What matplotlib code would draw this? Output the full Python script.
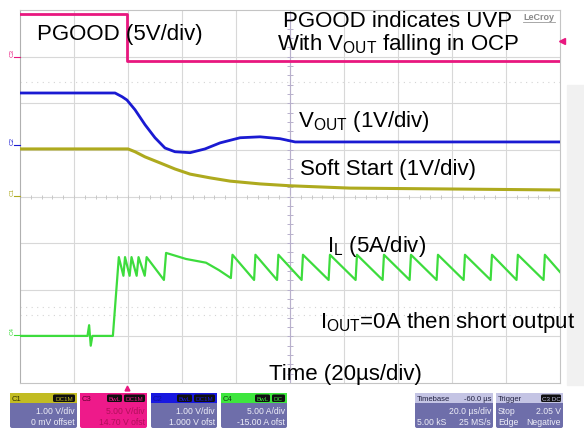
import numpy as np
import matplotlib.pyplot as plt
from matplotlib.patches import Rectangle, FancyBboxPatch

plt.rcParams['font.family'] = 'Liberation Sans'
plt.rcParams['mathtext.fontset'] = 'custom'
plt.rcParams['mathtext.rm'] = 'Liberation Sans'
plt.rcParams['mathtext.it'] = 'Liberation Sans'

# traces: time in us, level in screen divisions (8 div tall, 20 us/div)
pg_t = [0, 39.6, 39.6, 200]
pg_v = [7.92, 7.92, 6.91, 6.91]

vout_t = [0, 35.2, 37.8, 39.6, 42.6, 46.3, 50.0, 53.7, 57.4, 63.0, 68.5, 74.1, 81.5, 88.9, 96.3, 101.9, 200]
vout_v = [6.22, 6.22, 6.14, 6.07, 5.86, 5.54, 5.26, 5.04, 4.96, 4.94, 5.02, 5.15, 5.26, 5.28, 5.24, 5.17, 5.17]

ss_t = [0, 40.0, 42.6, 46.3, 51.9, 57.4, 63.0, 70.4, 77.8, 88.9, 100, 122.2, 200]
ss_v = [5.02, 5.02, 4.96, 4.85, 4.72, 4.59, 4.48, 4.40, 4.33, 4.27, 4.23, 4.18, 4.14]

il_t = [0, 25.0, 25.6, 26.2, 26.8, 34.4, 36.6,
        38.3, 38.9, 40.6, 41.3, 43.2, 43.9, 46.2, 46.9,
        53.3, 54.1, 61.5, 68.9, 73.7, 78.1, 78.7,
        86.7, 87.2, 95.2, 95.7, 104.3, 104.8, 114.3, 114.8, 124.3, 124.8,
        134.3, 134.8, 144.3, 144.8, 154.3, 154.8, 164.3, 164.8, 174.3, 174.8,
        183.9, 184.4, 193.9, 194.4, 200]
il_v = [1.01, 1.01, 1.24, 0.80, 1.01, 1.01, 2.70,
        2.30, 2.70, 2.30, 2.70, 2.30, 2.70, 2.30, 2.70,
        2.21, 2.79, 2.66, 2.58, 2.42, 2.25, 2.75,
        2.21, 2.75, 2.21, 2.75, 2.21, 2.75, 2.21, 2.75, 2.21, 2.75,
        2.21, 2.75, 2.21, 2.75, 2.21, 2.75, 2.21, 2.75, 2.21, 2.75,
        2.21, 2.75, 2.21, 2.75, 2.38]

PINK = '#e8177f'
BLUE = '#1a1ad2'
YEL = '#aeaa1e'
GRN = '#3ddc3d'
BODY = '#6e6eaa'

fig = plt.figure(figsize=(5.84, 4.28), dpi=100)
ax = fig.add_axes([20/584, 45/428, 540/584, 373/428])
ax.set_xlim(0, 200)
ax.set_ylim(0, 8)
for s in ax.spines.values():
    s.set_color('#c4c4c4')
    s.set_linewidth(0.8)
ax.spines['left'].set_color('#b0b0b0')
ax.set_xticks([])
ax.set_yticks([])

# graticule
for x in range(20, 200, 20):
    ax.axvline(x, color='#d8d8d8', lw=0.8, zorder=1)
for y in range(1, 8):
    ax.axhline(y, color='#d8d8d8', lw=0.8, zorder=1)
ax.axvline(100, color='#b8b0cc', lw=0.8, zorder=1)
ax.plot(np.full(39, 100), np.arange(0.2, 8, 0.2), ls='none', marker='_', ms=4,
        mew=0.7, color='#b8b0cc', zorder=1)
ax.plot(np.arange(4, 200, 4), np.full(49, 4), ls='none', marker='|', ms=3,
        mew=0.7, color='#c8c8c8', zorder=1)
for y in [6.46, 1.63, 1.46]:
    ax.axhline(y, color='#d4d4d4', lw=0.8, ls=(0, (1, 4)), zorder=1)

ax.plot(pg_t, pg_v, color=PINK, lw=2.0, zorder=3)
ax.plot(vout_t, vout_v, color=BLUE, lw=2.0, zorder=3)
ax.plot(ss_t, ss_v, color=YEL, lw=2.2, zorder=3)
ax.plot(il_t, il_v, color=GRN, lw=1.6, zorder=3)

# overlay in pixel coordinates for labels and scope readouts
ov = fig.add_axes([0, 0, 1, 1], zorder=5)
ov.set_xlim(0, 584)
ov.set_ylim(428, 0)
ov.axis('off')
ov.patch.set_alpha(0)

ov.add_patch(Rectangle((567, 85), 17, 300, color='#f1f1f1', zorder=0))

fs = 16
ov.text(37, 40, 'PGOOD (5V/div)', fontsize=fs, va='baseline')
ov.text(398, 27, 'PGOOD indicates UVP', fontsize=fs, va='baseline', ha='center')
ov.text(398, 50, r'With V$_{\rm OUT}$ falling in OCP', fontsize=fs, va='baseline', ha='center')
ov.text(298, 127, r'V$_{\rm OUT}$ (1V/div)', fontsize=fs, va='baseline')
ov.text(300, 175, 'Soft Start (1V/div)', fontsize=fs, va='baseline')
ov.text(327, 252, r'I$_{\rm L}$ (5A/div)', fontsize=fs, va='baseline')
ov.text(320, 328, r'I$_{\rm OUT}$=0A then short output', fontsize=fs, va='baseline')
ov.text(269, 380, 'Time (20µs/div)', fontsize=fs, va='baseline')
ov.text(539, 20, 'LeCroy', fontsize=6.5, color='#8a8a8a', ha='center', va='baseline',
        fontweight='bold')
ov.plot([523, 555], [22, 22], color='#9a9a9a', lw=0.6)

# channel markers
for lab, yy, c in [('C3', 57, PINK), ('C2', 145, BLUE), ('C1', 196, YEL), ('C4', 335, GRN)]:
    ov.text(12, yy, lab, fontsize=4.5, color=c, rotation=90, ha='center', va='bottom')
    ov.plot([14, 20], [yy, yy], color=c, lw=0.8)
ov.plot(562, 41, marker='<', ms=4, color=PINK)
ov.plot(127, 388, marker='^', ms=3.5, color=PINK)

# readout boxes
narrow = ['Liberation Sans Narrow', 'Liberation Sans']


def box(x0, x1, head, body, name, name_col, tags, lines, txt_col):
    ov.add_patch(FancyBboxPatch((x0, 393), x1 - x0, 35, boxstyle='round,pad=0,rounding_size=2',
                                fc=body, ec='none'))
    ov.add_patch(Rectangle((x0, 393), x1 - x0, 10, fc=head, ec='none'))
    ov.text(x0 + 2, 401, name, fontsize=5.5, color=name_col, va='baseline', family=narrow)
    for tx0, tx1, t, tc in tags:
        ov.add_patch(FancyBboxPatch((tx0, 394.5), tx1 - tx0, 7.5, boxstyle='round,pad=0,rounding_size=1.5',
                                    fc='#101010', ec='none'))
        ov.text((tx0 + tx1) / 2, 400.8, t, fontsize=4.5, color=tc, ha='center', va='baseline',
                family=narrow)
    for (l, r), yb in zip(lines, [414, 425]):
        if l:
            ov.text(x0 + 2, yb, l, fontsize=6.2, color=txt_col, va='baseline', family=narrow)
        ov.text(x1 - 2, yb, r, fontsize=6.2, color=txt_col, ha='right', va='baseline', family=narrow)


box(10, 77, '#c2bc22', BODY, 'C1', '#303000', [(53, 75, 'DC1M', '#c2bc22')],
    [('', '1.00 V/div'), ('', '0 mV offset')], '#eeeef8')
box(80, 147, '#ee1a8a', '#ee1a8a', 'C3', '#600030', [(107, 122, 'BwL', '#ee1a8a'), (124, 145, 'DC1M', '#ee1a8a')],
    [('', '5.00 V/div'), ('', '14.70 V ofst')], '#b0105a')
box(151, 217, '#1818e0', BODY, 'C2', '#1010a0', [(177, 192, 'BwL', '#1818e0'), (194, 215, 'DC1M', '#1818e0')],
    [('', '1.00 V/div'), ('', '1.000 V ofst')], '#eeeef8')
box(221, 287, '#3ee63e', BODY, 'C4', '#104010', [(255, 270, 'BwL', '#3ee63e'), (272, 285, 'DC', '#3ee63e')],
    [('', '5.00 A/div'), ('', '-15.00 A ofst')], '#eeeef8')
box(415, 493, '#c4c4e4', BODY, 'Timebase', '#202040', [],
    [('', '20.0 µs/div'), ('5.00 kS', '25 MS/s')], '#eeeef8')
ov.text(491, 401, '-60.0 µs', fontsize=5.5, color='#202040', ha='right', va='baseline', family=narrow)
box(496, 563, '#c4c4e4', BODY, 'Trigger', '#202040', [(541, 561, 'C3 DC', '#c4c4e4')],
    [('Stop', '2.05 V'), ('Edge', 'Negative')], '#eeeef8')

fig.savefig('out.png', dpi=100)
